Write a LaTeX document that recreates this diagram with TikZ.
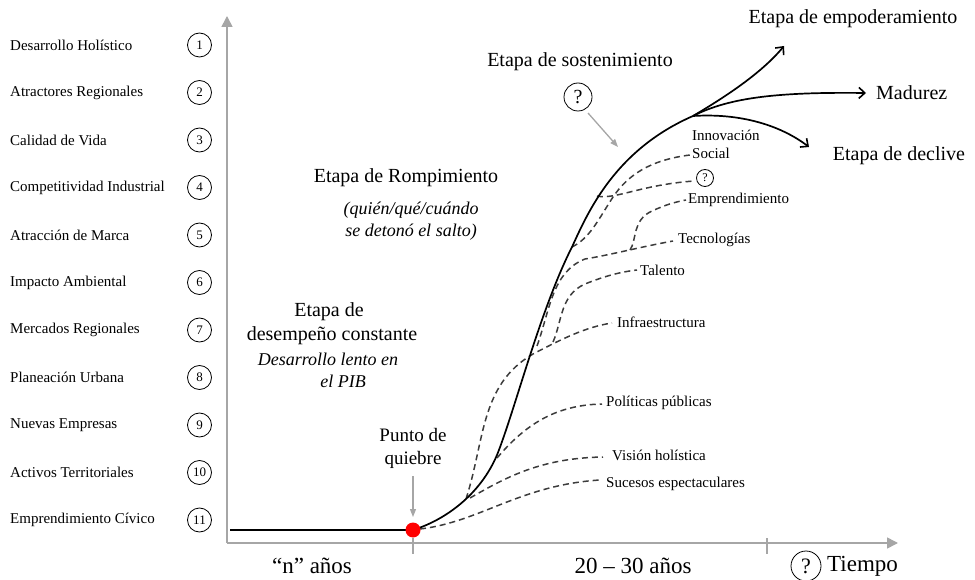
\documentclass[tikz,border=0pt]{standalone}
\usepackage{fontspec}
\setmainfont{Liberation Serif}
\usetikzlibrary{arrows.meta}
\definecolor{axisgray}{HTML}{A6A6A6}
\definecolor{dashgray}{HTML}{3C3C3C}
\begin{document}
\begin{tikzpicture}[x=1pt,y=-1pt,
  axisline/.style={draw=axisgray, line width=1.6pt},
  mainline/.style={draw=black, line width=1.7pt},
  dashcurve/.style={draw=dashgray, line width=1.5pt, dash pattern=on 6pt off 4pt},
  branch/.style={draw=black, line width=1.7pt, -{Straight Barb[length=6pt,width=11pt,line width=1.6pt]}},
  grayarrow/.style={draw=axisgray, line width=1.3pt, -{Triangle[length=8pt,width=6pt]}},
  listlbl/.style={anchor=west, inner sep=0pt, font=\fontsize{15}{18}\selectfont},
  numcirc/.style={circle, draw=black, line width=0.8pt, minimum size=24pt, inner sep=0pt, font=\fontsize{13}{15}\selectfont},
  smalllbl/.style={anchor=west, inner sep=0pt, font=\fontsize{15}{18}\selectfont},
  stagelbl/.style={inner sep=0pt, align=center, font=\fontsize{20}{23}\selectfont},
  itallbl/.style={inner sep=0pt, align=center, font=\fontsize{18}{22}\selectfont\itshape},
  axislbl/.style={inner sep=0pt, font=\fontsize{23}{26}\selectfont},
  qcirc/.style={circle, draw=black, line width=0.8pt, inner sep=0pt}
]
\useasboundingbox (0,0) rectangle (975,580);

% left list
\foreach \t [count=\i] in {Desarrollo Holístico, Atractores Regionales, Calidad de Vida, Competitividad Industrial, Atracción de Marca, Impacto Ambiental, Mercados Regionales, Planeación Urbana, Nuevas Empresas, Activos Territoriales, Emprendimiento Cívico}{
  \node[listlbl] (l\i) at (10,{45+47.5*(\i-1)}) {\t};
  \node[numcirc] (c\i) at (199.5,{45+47.5*(\i-1)}) {\i};
}

% axes
\coordinate (O) at (227,543);
\coordinate (ytop) at (227,16);
\coordinate (xend) at (898,543);
\draw[axisline, -{Triangle[length=11pt,width=11pt]}] (O) -- (ytop);
\draw[axisline, -{Triangle[length=11pt,width=11pt]}] (O) -- (xend);
\coordinate (t1a) at (413,538); \coordinate (t1b) at (413,554);
\coordinate (t2a) at (767,538); \coordinate (t2b) at (767,554);
\draw[draw=axisgray, line width=2.6pt] (t1a) -- (t1b);
\draw[draw=axisgray, line width=2.6pt] (t2a) -- (t2b);

% dashed curves
\coordinate (pqc) at (413,530);
\coordinate (s0) at (420,529);   \coordinate (s1) at (600,480);
\coordinate (v0) at (470,498);   \coordinate (v1) at (603,457);
\coordinate (p0) at (497,458);   \coordinate (p1) at (602,404);
\coordinate (i0) at (466,499);   \coordinate (ix) at (533,354); \coordinate (i1) at (612,323);
\coordinate (ta0) at (553,342);  \coordinate (ta1) at (637,270);
\coordinate (te0) at (537,346);  \coordinate (tem) at (585,259); \coordinate (te1) at (673,241);
\coordinate (ef) at (630,250);   \coordinate (e1) at (686,200);
\coordinate (so0) at (572,247);  \coordinate (so1) at (690,155);
\coordinate (q0) at (597,196);   \coordinate (q1) at (694,181);

\draw[dashcurve] (s0) .. controls (480,522) and (520,485) .. (s1);
\draw[dashcurve] (v0) .. controls (505,478) and (540,458) .. (v1);
\draw[dashcurve] (p0) .. controls (525,425) and (555,405) .. (p1);
\draw[dashcurve] (i0) .. controls (485,440) and (480,385) .. (ix) .. controls (560,340) and (585,327) .. (i1);
\draw[dashcurve] (ta0) .. controls (562,322) and (560,295) .. (585,284) .. controls (605,276) and (620,272) .. (ta1);
\draw[dashcurve] (te0) .. controls (550,310) and (552,272) .. (tem) .. controls (610,255) and (640,247) .. (te1);
\draw[dashcurve] (ef) .. controls (637,240) and (632,220) .. (652,211) .. controls (665,205) and (675,202) .. (e1);
\draw[dashcurve] (so0) .. controls (590,238) and (598,220) .. (613,197) .. controls (628,175) and (650,160) .. (so1);
\draw[dashcurve] (q0) .. controls (615,200) and (640,185) .. (q1);

% main curve
\coordinate (hstart) at (230,530);
\coordinate (bp) at (693,116);
\draw[mainline] (hstart) -- (pqc) .. controls (445,520) and (480,495) .. (497,455) .. controls (515,410) and (540,310) .. (572,247) .. controls (588,212) and (615,150) .. (bp);

% branches
\coordinate (emp) at (784,46);
\coordinate (mad) at (866,93);
\coordinate (dec) at (809,147);
\draw[branch] (bp) .. controls (720,100) and (760,75) .. (emp);
\draw[branch] (bp) .. controls (730,97) and (780,92) .. (mad);
\draw[branch] (bp) .. controls (740,113) and (780,125) .. (dec);

% red point
\node[circle, fill=red, minimum size=15pt, inner sep=0pt] (pq) at (pqc) {};

% labels of dashed curves
\node[smalllbl] (lsuc) at (606,484) {Sucesos espectaculares};
\node[smalllbl] (lvis) at (612,455) {Visión holística};
\node[smalllbl] (lpol) at (606,403) {Políticas públicas};
\node[smalllbl] (linf) at (617,322) {Infraestructura};
\node[smalllbl] (ltal) at (640,270) {Talento};
\node[smalllbl] (ltec) at (678,240) {Tecnologías};
\node[smalllbl] (lemp) at (688,200) {Emprendimiento};
\node[qcirc, minimum size=17pt, font=\fontsize{12}{14}\selectfont] (qs) at (705,178) {?};
\node[smalllbl, align=left] (linn) at (692,144) {Innovación\\Social};

% stage labels
\node[stagelbl] (lempod) at (853,19) {Etapa de empoderamiento};
\node[stagelbl, anchor=west] (lmad) at (876,93) {Madurez};
\node[stagelbl] (ldec) at (899,156) {Etapa de declive};
\node[stagelbl] (lsost) at (580,62) {Etapa de sostenimiento};
\node[qcirc, minimum size=28pt, font=\fontsize{20}{22}\selectfont] (qb) at (578,97) {?};
\coordinate (qbarrow) at (618,147);
\coordinate (qbstart) at (588,113);
\draw[grayarrow] (qbstart) -- (qbarrow);

\node[stagelbl] (lromp) at (406,178) {Etapa de Rompimiento};
\node[itallbl] (lquien) at (411,221) {(quién/qué/cuándo\\se detonó el salto)};

\node[stagelbl] (ldes1) at (329,312) {Etapa de};
\node[stagelbl] (ldes2) at (332,336) {desempeño constante};
\node[itallbl] (ldes3) at (328,359) {Desarrollo lento en};
\node[itallbl] (ldes4) at (343,381) {el PIB};

% punto de quiebre
\node[inner sep=0pt, align=center, font=\fontsize{19}{23}\selectfont] (lpq) at (413,448) {Punto de\\quiebre};
\coordinate (pqarrow) at (413,517);
\coordinate (pqastart) at (413,476);
\draw[grayarrow] (pqastart) -- (pqarrow);

% axis labels
\node[axislbl] (lnanos) at (312,566) {“n” años};
\node[axislbl] (l2030) at (633,566) {20 – 30 años};
\node[qcirc, minimum size=30pt, font=\fontsize{22}{24}\selectfont] (qt) at (806,566) {?};
\node[axislbl, anchor=west] (ltiempo) at (827,566) {Tiempo};
\end{tikzpicture}
\end{document}
